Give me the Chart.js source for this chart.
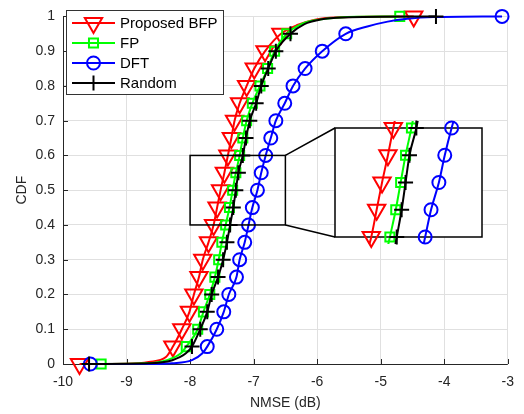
<!DOCTYPE html>
<html>
<head>
<meta charset="utf-8">
<script src="https://cdn.jsdelivr.net/npm/chart.js@4"></script>
<style>
  body { margin: 0; background: #fff; }
  #wrap { position: relative; width: 524px; height: 414px; }
  #main { position: absolute; left: 0; top: 0; }
  #inset { position: absolute; }
</style>
</head>
<body>
<div id="wrap">
  <canvas id="main" width="524" height="414"></canvas>
  <canvas id="inset"></canvas>
</div>
<script>
// CDF levels where the markers sit
const cdfLevels = [0, 0.05, 0.1, 0.15, 0.2, 0.25, 0.3, 0.35, 0.4, 0.45, 0.5,
                   0.55, 0.6, 0.65, 0.7, 0.75, 0.8, 0.85, 0.9, 0.95, 1];

// NMSE (dB) at each CDF level
const bfpX  = [-9.74, -8.27, -8.13, -8.01, -7.94, -7.86, -7.80, -7.71, -7.63, -7.575, -7.52,
               -7.46, -7.405, -7.35, -7.30, -7.22, -7.11, -6.99, -6.82, -6.57, -4.48];
const fpX   = [-9.40, -8.06, -7.88, -7.79, -7.69, -7.61, -7.55, -7.50, -7.44, -7.38, -7.33,
               -7.28, -7.22, -7.17, -7.11, -7.02, -6.90, -6.78, -6.67, -6.48, -4.70];
const dftX  = [-9.57, -7.73, -7.58, -7.47, -7.39, -7.27, -7.22, -7.14, -7.08, -7.02, -6.94,
               -6.88, -6.81, -6.73, -6.65, -6.51, -6.38, -6.19, -5.92, -5.55, -3.09];
const randX = [-9.59, -7.97, -7.84, -7.73, -7.66, -7.56, -7.48, -7.42, -7.37, -7.32, -7.28,
               -7.24, -7.17, -7.12, -7.06, -6.96, -6.88, -6.77, -6.65, -6.42, -4.13];

// extra points on the curve tails (line only, no marker)
const bfpTailX  = [-9.0, -8.65, -8.38, -6.3, -6.05, -5.7];
const bfpTailY  = [0.001, 0.006, 0.02, 0.976, 0.99, 0.997];
const fpTailX   = [-8.7, -8.35, -8.15, -6.25, -6.0, -5.65];
const fpTailY   = [0.002, 0.012, 0.03, 0.978, 0.99, 0.997];
const dftTailX  = [-8.6, -8.28, -7.97, -7.81, -5.21, -4.89, -4.58, -4.17];
const dftTailY  = [0, 0.002, 0.011, 0.03, 0.971, 0.985, 0.993, 0.998];
const randTailX = [-8.65, -8.28, -8.07, -6.2, -5.95, -5.6];
const randTailY = [0.002, 0.011, 0.03, 0.978, 0.991, 0.997];

const seriesNames = ['Proposed BFP', 'FP', 'DFT', 'Random'];

const xTicks = [-10, -9, -8, -7, -6, -5, -4, -3];
const xTickLabels = ['-10', '-9', '-8', '-7', '-6', '-5', '-4', '-3'];
const yTicks = [0, 0.1, 0.2, 0.3, 0.4, 0.5, 0.6, 0.7, 0.8, 0.9, 1];
const yTickLabels = ['0', '0.1', '0.2', '0.3', '0.4', '0.5', '0.6', '0.7', '0.8', '0.9', '1'];

// zoomed window shown in the inset
const zoomX = [-8, -6.5];
const zoomY = [0.4, 0.6];

const FONT = "'Liberation Sans', Arial, Helvetica, sans-serif";
const AXIS = '#262626';
const INSET = { left: 335, top: 128, width: 147, height: 109, pad: 16 };

const series = [
  { name: seriesNames[0], x: bfpX,  tx: bfpTailX,  ty: bfpTailY,  color: '#ff0000', style: 'triangle', rot: 180, r: 10 },
  { name: seriesNames[1], x: fpX,   tx: fpTailX,   ty: fpTailY,   color: '#00ff00', style: 'rect',     rot: 0,   r: 6.4 },
  { name: seriesNames[2], x: dftX,  tx: dftTailX,  ty: dftTailY,  color: '#0000ff', style: 'circle',   rot: 0,   r: 6.5 },
  { name: seriesNames[3], x: randX, tx: randTailX, ty: randTailY, color: '#000000', style: 'cross',    rot: 0,   r: 7.5 }
];

function markerPoints(s) {
  return s.x.map((v, i) => ({ x: v, y: cdfLevels[i] }));
}
function linePoints(s) {
  const tail = s.tx.map((v, i) => ({ x: v, y: s.ty[i] }));
  return markerPoints(s).concat(tail).sort((a, b) => a.x - b.x);
}
function buildDatasets(lineClip, markClip) {
  const ds = [];
  series.forEach((s, k) => {
    ds.push({
      data: linePoints(s), showLine: true, borderColor: s.color, borderWidth: 2,
      pointRadius: 0, pointHoverRadius: 0, cubicInterpolationMode: 'monotone',
      order: 8 - 2 * k, clip: lineClip
    });
    ds.push({
      data: markerPoints(s), showLine: false, pointStyle: s.style, rotation: s.rot,
      pointRadius: s.r, pointHoverRadius: s.r, pointBorderColor: s.color,
      pointBackgroundColor: 'rgba(0,0,0,0)', pointBorderWidth: 2,
      order: 7 - 2 * k, clip: markClip
    });
  });
  return ds;
}

const mainPlugin = {
  id: 'mainDecor',
  beforeDatasetsDraw(chart) {
    const { ctx, chartArea: a, scales: { x, y } } = chart;
    ctx.save();
    ctx.strokeStyle = AXIS;
    ctx.lineWidth = 1;
    ctx.beginPath();
    ctx.moveTo(a.left + 0.5, a.top);
    ctx.lineTo(a.left + 0.5, a.bottom + 0.5);
    ctx.lineTo(a.right, a.bottom + 0.5);
    xTicks.forEach(v => {
      const px = Math.round(x.getPixelForValue(v)) + 0.5;
      ctx.moveTo(px, a.bottom);
      ctx.lineTo(px, a.bottom - 5);
    });
    yTicks.forEach(v => {
      const py = Math.round(y.getPixelForValue(v)) + 0.5;
      ctx.moveTo(a.left, py);
      ctx.lineTo(a.left + 5, py);
    });
    ctx.stroke();
    ctx.restore();
  },
  afterDatasetsDraw(chart) {
    const { ctx, scales: { x, y } } = chart;
    const x0 = x.getPixelForValue(zoomX[0]), x1 = x.getPixelForValue(zoomX[1]);
    const yTop = y.getPixelForValue(zoomY[1]), yBot = y.getPixelForValue(zoomY[0]);
    ctx.save();
    ctx.strokeStyle = '#000';
    ctx.lineWidth = 1.5;
    ctx.strokeRect(x0, yTop, x1 - x0, yBot - yTop);
    ctx.beginPath();
    ctx.moveTo(x1, yTop);
    ctx.lineTo(INSET.left, INSET.top);
    ctx.moveTo(x1, yBot);
    ctx.lineTo(INSET.left, INSET.top + INSET.height);
    ctx.stroke();
    ctx.restore();
  },
  afterDraw(chart) {
    // MATLAB-style legend: line sample with marker in the middle
    const ctx = chart.ctx;
    const box = { x: 66.5, y: 10.5, w: 157, h: 84 };
    ctx.save();
    ctx.fillStyle = '#fff';
    ctx.fillRect(box.x, box.y, box.w, box.h);
    ctx.strokeStyle = '#333';
    ctx.lineWidth = 1;
    ctx.strokeRect(box.x, box.y, box.w, box.h);
    ctx.font = '15px ' + FONT;
    ctx.textBaseline = 'middle';
    series.forEach((s, i) => {
      const cy = 23 + i * 20;
      ctx.strokeStyle = s.color;
      ctx.lineWidth = 2;
      ctx.beginPath();
      ctx.moveTo(72, cy);
      ctx.lineTo(115, cy);
      ctx.stroke();
      ctx.fillStyle = 'rgba(0,0,0,0)';
      Chart.helpers.drawPoint(ctx, { pointStyle: s.style, rotation: s.rot, radius: s.r, borderWidth: 2 }, 93.5, cy);
      ctx.fillStyle = '#000';
      ctx.fillText(s.name, 120, cy + 1);
    });
    ctx.restore();
  }
};

const tickFont = { family: FONT, size: 14 };

new Chart(document.getElementById('main'), {
  type: 'scatter',
  data: { datasets: buildDatasets(false, false) },
  options: {
    responsive: false,
    animation: false,
    devicePixelRatio: 1,
    events: [],
    layout: { padding: { top: 8, right: 12, left: 0, bottom: 0 } },
    plugins: { legend: { display: false }, tooltip: { enabled: false } },
    scales: {
      x: {
        type: 'linear', min: -10, max: -3,
        afterBuildTicks: s => { s.ticks = xTicks.map(v => ({ value: v })); },
        afterFit: s => { s.height = 50; },
        grid: { color: '#e0e0e0', drawTicks: false },
        border: { display: false },
        ticks: { font: tickFont, color: AXIS, padding: 10, maxRotation: 0,
                 callback: (v, i) => xTickLabels[i] },
        title: { display: true, text: 'NMSE (dB)', font: tickFont, color: AXIS,
                 padding: { top: 0, bottom: 2 } }
      },
      y: {
        type: 'linear', min: 0, max: 1,
        afterBuildTicks: s => { s.ticks = yTicks.map(v => ({ value: v })); },
        afterFit: s => { s.width = 63; },
        grid: { color: '#e0e0e0', drawTicks: false },
        border: { display: false },
        ticks: { font: tickFont, color: AXIS, padding: 8,
                 callback: (v, i) => yTickLabels[i] },
        title: { display: true, text: 'CDF', font: tickFont, color: AXIS,
                 padding: { top: 14, bottom: 0 } }
      }
    }
  },
  plugins: [mainPlugin]
});

// inset: same data, zoomed axes, no ticks
const insetCanvas = document.getElementById('inset');
insetCanvas.width = INSET.width + 2 * INSET.pad;
insetCanvas.height = INSET.height + 2 * INSET.pad;
insetCanvas.style.left = (INSET.left - INSET.pad) + 'px';
insetCanvas.style.top = (INSET.top - INSET.pad) + 'px';

const insetFrame = {
  id: 'insetFrame',
  beforeDatasetsDraw(chart) {
    const { ctx, chartArea: a } = chart;
    ctx.save();
    ctx.fillStyle = '#fff';
    ctx.fillRect(a.left, a.top, a.right - a.left, a.bottom - a.top);
    ctx.strokeStyle = '#000';
    ctx.lineWidth = 1.5;
    ctx.strokeRect(a.left, a.top, a.right - a.left, a.bottom - a.top);
    ctx.restore();
  }
};

new Chart(insetCanvas, {
  type: 'scatter',
  data: { datasets: buildDatasets(7, 14) },
  options: {
    responsive: false,
    animation: false,
    devicePixelRatio: 1,
    events: [],
    layout: { padding: INSET.pad },
    plugins: { legend: { display: false }, tooltip: { enabled: false } },
    scales: {
      x: { type: 'linear', display: false, min: zoomX[0], max: zoomX[1] },
      y: { type: 'linear', display: false, min: zoomY[0], max: zoomY[1] }
    }
  },
  plugins: [insetFrame]
});
</script>
</body>
</html>
